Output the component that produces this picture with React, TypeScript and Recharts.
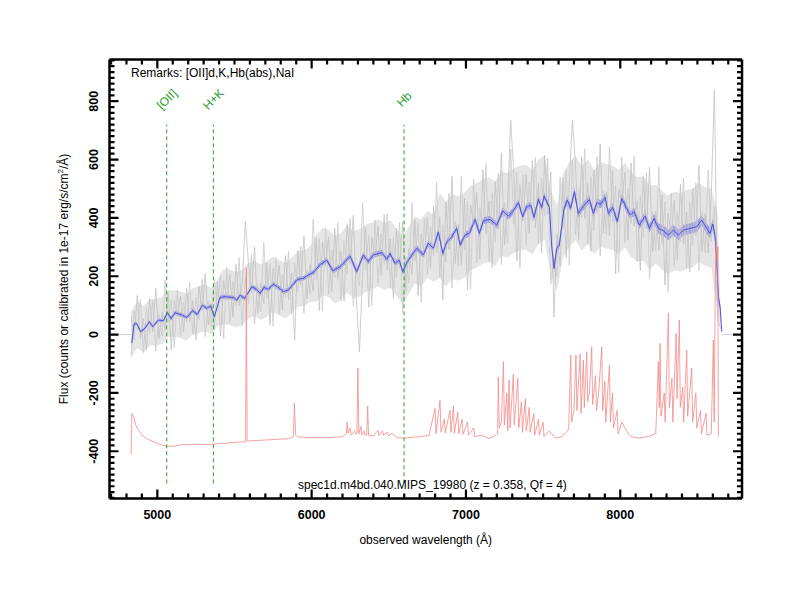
import {
  Area,
  ComposedChart,
  Line,
  ReferenceLine,
  Scatter,
  XAxis,
  YAxis,
} from "recharts";

const FONT = '"Liberation Sans", Arial, Helvetica, sans-serif';

// raw spectrum (grey), two traces on a regular 20 A grid
const grayStart = 4830;
const grayStep = 20;
const grayFlux = [
  63, -19, 134, -15, 54, -52, 123, 10, 159, -13,
  75, 15, 144, -52, 117, 63, 131, 10, 159, 45,
  116, -18, 166, 82, 209, 33, 107, 17, 182, -5,
  185, 119, 205, 61, 241, 99, 172, 390, 249, 142,
  301, 73, 178, 107, 245, 33, 227, 154, 237, 84,
  271, 120, 212, -20, 289, 170, 337, 123, 240, 149,
  332, 82, 315, 237, 335, 147, 365, 189, 285, 115,
  377, 242, 409, 126, -60, 205, 366, 94, 333, 263,
  371, 203, 411, 221, 328, 125, 365, 228, 387, 149,
  294, 205, 394, 134, 345, 267, 401, 227, 439, 282,
  404, 120, 454, 293, 543, 243, 378, 238, 468, 153,
  445, 374, 487, 259, 564, 345, 458, 230, 524, 363,
  623, 308, 456, 735, 553, 253, 515, 389, 548, 346,
  596, 367, 519, 280, 614, 413, 558, 60, 344, 235,
  538, 263, 525, 735, 582, 324, 608, 397, 519, 285,
  564, 418, 654, 348, 488, 340, 563, 208, 500, 449,
  556, 324, 588, 372, 459, 220, 542, 363, 574, 285,
  423, 289, 478, 170, 417, 335, 460, 255, 515, 311,
  420, 214, 501, 340, 580, 285, 415, 280, 485, 840,
  120, 90,
];
const grayFlux2 = [
  -72, 80, 17, 120, -63, 92, 6, 118, -57, 68,
  -6, 186, 45, 119, -45, 153, -4, 109, 42, 180,
  -1, 126, 49, 190, -7, 114, 26, 188, 83, 204,
  -13, 229, 40, 182, 98, 264, 29, 196, 106, 274,
  37, 172, 79, 316, 124, 242, 29, 264, 72, 205,
  128, 285, 69, 246, 146, 302, 73, 222, 141, 396,
  189, 329, 81, 367, 140, 290, 196, 384, 116, 323,
  208, 398, 97, 243, 167, 452, 223, 341, 99, 393,
  176, 346, 242, 416, 159, 333, 196, 384, 75, 266,
  177, 452, 251, 381, 111, 397, 206, 370, 270, 522,
  196, 376, 246, 485, 159, 387, 234, 542, 292, 457,
  157, 534, 247, 435, 356, 585, 250, 486, 316, 555,
  239, 452, 312, 636, 377, 557, 227, 549, 308, 522,
  388, 607, 311, 536, 406, 605, 174, 262, 200, 539,
  362, 567, 237, 599, 342, 500, 400, 637, 311, 541,
  356, 610, 270, 492, 344, 644, 387, 512, 212, 609,
  316, 500, 380, 612, 251, 476, 334, 555, 190, 420,
  288, 574, 313, 455, 147, 485, 235, 420, 320, 536,
  225, 454, 306, 520, 220, 420, 280, 565, 320, 440,
  60, 20,
];

// dense core of the raw spectrum: wavelength, low, high
const grayCore: [number, number, number][] = [
  [4830, -80, 80], [4870, -45, 115], [4910, -62, 98], [4950, -38, 122], [4990, -38, 122],
  [5030, -32, 128], [5070, -8, 152], [5110, -8, 152], [5150, -12, 148], [5190, -20, 140],
  [5230, 0, 160], [5270, 5, 165], [5310, 12, 172], [5350, 0, 160], [5390, 30, 190],
  [5430, 35, 225], [5470, 33, 223], [5510, 25, 215], [5550, 33, 223], [5590, 55, 245],
  [5630, 63, 253], [5670, 50, 240], [5710, 62, 252], [5750, 77, 267], [5790, 65, 255],
  [5830, 55, 245], [5870, 73, 263], [5910, 95, 285], [5950, 99, 289], [5990, 112, 302],
  [6030, 113, 343], [6070, 135, 365], [6110, 129, 359], [6150, 107, 337], [6190, 118, 348],
  [6230, 145, 375], [6270, 125, 355], [6310, 130, 360], [6350, 147, 377], [6390, 153, 383],
  [6430, 165, 395], [6470, 153, 383], [6510, 161, 391], [6550, 133, 363], [6590, 103, 333],
  [6630, 140, 370], [6670, 175, 405], [6710, 165, 395], [6750, 195, 425], [6790, 181, 411],
  [6830, 195, 485], [6870, 165, 455], [6910, 190, 480], [6950, 185, 475], [6990, 195, 485],
  [7030, 220, 510], [7070, 230, 520], [7110, 243, 533], [7150, 249, 539], [7190, 235, 525],
  [7230, 270, 560], [7270, 263, 553], [7310, 280, 570], [7350, 290, 580], [7390, 291, 581],
  [7430, 275, 565], [7470, 310, 600], [7510, 325, 615], [7550, 205, 495], [7590, 151, 441],
  [7630, 265, 555], [7670, 300, 590], [7710, 325, 615], [7750, 287, 577], [7790, 310, 600],
  [7830, 275, 565], [7870, 301, 591], [7910, 295, 585], [7950, 290, 580], [7990, 275, 565],
  [8030, 299, 589], [8070, 267, 557], [8110, 250, 540], [8150, 253, 543], [8190, 221, 511],
  [8230, 243, 513], [8270, 223, 493], [8310, 207, 477], [8350, 220, 490], [8390, 215, 485],
  [8430, 225, 495], [8470, 231, 501], [8510, 250, 520], [8550, 235, 505], [8590, 230, 500],
  [8630, 80, 420], [8650, 30, 90],
];

// flat zero outside the observed range
const padFlux: [number, number | null][] = [
  [4690, 0], [4830, 0], [4831, null], [8658, 0], [8789, 0],
];

// smoothed spectrum: wavelength, flux, error
const smoothSpec: [number, number, number][] = [
  [4834, -29, 6], [4849, 36, 6], [4866, 38, 6], [4892, 10, 6], [4920, 22, 6],
  [4948, 44, 6], [4970, 27, 6], [5006, 50, 6], [5039, 47, 6], [5065, 75, 7],
  [5089, 55, 7], [5115, 75, 7], [5158, 67, 7], [5191, 59, 7], [5229, 82, 7],
  [5259, 69, 7], [5292, 101, 7], [5320, 90, 7], [5346, 98, 7], [5369, 61, 7],
  [5406, 127, 7], [5438, 130, 7], [5493, 127, 7], [5515, 118, 7], [5536, 135, 7],
  [5564, 124, 7], [5579, 135, 7], [5612, 164, 8], [5644, 155, 8], [5666, 141, 8],
  [5691, 162, 8], [5719, 155, 8], [5752, 173, 8], [5784, 162, 8], [5817, 147, 8],
  [5849, 153, 8], [5881, 173, 8], [5907, 189, 8], [5946, 193, 8], [5979, 204, 8],
  [6016, 215, 8], [6050, 238, 9], [6098, 255, 9], [6137, 219, 9], [6184, 232, 9],
  [6249, 269, 10], [6292, 215, 10], [6335, 273, 10], [6367, 250, 10], [6400, 273, 10],
  [6454, 281, 10], [6487, 258, 10], [6508, 278, 10], [6541, 244, 10], [6568, 255, 10],
  [6590, 215, 10], [6620, 250, 10], [6681, 296, 10], [6724, 273, 10], [6756, 313, 10],
  [6789, 296, 10], [6821, 352, 11], [6850, 278, 11], [6876, 318, 11], [6908, 335, 11],
  [6940, 364, 11], [6962, 307, 11], [6994, 341, 11], [7022, 347, 12], [7059, 395, 12],
  [7087, 347, 12], [7113, 390, 12], [7156, 395, 12], [7200, 375, 12], [7238, 424, 12],
  [7275, 406, 12], [7303, 421, 12], [7340, 452, 12], [7368, 404, 12], [7390, 436, 12],
  [7420, 444, 12], [7441, 402, 12], [7469, 463, 12], [7491, 436, 12], [7506, 475, 12],
  [7541, 436, 12], [7556, 301, 14], [7571, 227, 14], [7588, 296, 14], [7605, 307, 14],
  [7636, 433, 14], [7657, 461, 14], [7679, 433, 14], [7703, 490, 14], [7728, 415, 14],
  [7761, 440, 14], [7800, 463, 14], [7826, 415, 14], [7848, 452, 14], [7874, 447, 14],
  [7902, 470, 14], [7923, 415, 14], [7951, 436, 14], [7981, 387, 14], [8010, 467, 14],
  [8038, 436, 14], [8064, 410, 14], [8090, 421, 14], [8124, 375, 14], [8161, 406, 15],
  [8189, 364, 15], [8219, 398, 16], [8247, 364, 18], [8279, 356, 18], [8312, 341, 18],
  [8344, 358, 18], [8377, 341, 18], [8409, 358, 18], [8453, 364, 18], [8496, 370, 18],
  [8528, 392, 18], [8561, 364, 18], [8582, 347, 18], [8600, 379, 18], [8615, 335, 16],
  [8625, 255, 12], [8636, 130, 10], [8647, 95, 8], [8658, 10, 6],
];

// sky spectrum (offset), wavelength, flux
const skySpec: [number, number][] = [
  [4830, -410], [4835, -270], [4845, -280], [4860, -310], [4880, -330], [4910, -350],
  [4950, -362], [5000, -373], [5050, -382], [5100, -383], [5150, -378], [5200, -377],
  [5250, -376], [5300, -377], [5350, -376], [5400, -374], [5450, -372], [5500, -370],
  [5572, -367], [5577, 230], [5582, -365], [5650, -363], [5750, -360], [5850, -357],
  [5882, -350], [5888, -235], [5893, -300], [5897, -345], [5910, -352], [5930, -350],
  [5950, -354], [6000, -353], [6100, -354], [6200, -350], [6225, -340], [6230, -300],
  [6236, -338], [6250, -320], [6256, -345], [6280, -330], [6286, -342], [6294, -335],
  [6300, -116], [6306, -340], [6320, -315], [6326, -344], [6340, -330], [6346, -345],
  [6357, -345], [6363, -245], [6369, -345], [6400, -348], [6430, -328], [6436, -346],
  [6460, -330], [6466, -345], [6490, -335], [6497, -347], [6520, -340], [6560, -354],
  [6600, -355], [6650, -352], [6700, -350], [6760, -346], [6800, -253], [6806, -340],
  [6832, -225], [6838, -335], [6860, -290], [6866, -338], [6897, -259], [6903, -335],
  [6919, -245], [6925, -338], [6947, -265], [6953, -340], [6975, -290], [6981, -342],
  [7010, -300], [7016, -345], [7050, -320], [7056, -350], [7100, -345], [7150, -356],
  [7178, -350], [7205, -340], [7210, -145], [7216, -320], [7230, -300], [7243, -93],
  [7249, -310], [7265, -200], [7271, -330], [7280, -155], [7286, -320], [7307, -136],
  [7313, -310], [7336, -150], [7342, -320], [7360, -230], [7366, -335], [7385, -220],
  [7391, -330], [7410, -250], [7416, -335], [7440, -270], [7446, -345], [7470, -290],
  [7476, -345], [7500, -300], [7506, -350], [7540, -330], [7580, -355], [7620, -350],
  [7660, -330], [7666, -320], [7679, -70], [7685, -300], [7700, -260], [7713, -70],
  [7719, -260], [7740, -66], [7746, -270], [7761, -87], [7767, -250], [7783, -59],
  [7789, -230], [7800, -200], [7815, -42], [7821, -240], [7840, -140], [7846, -260],
  [7860, -200], [7880, -42], [7886, -260], [7900, -160], [7906, -300], [7930, -105],
  [7936, -300], [7950, -200], [7956, -320], [7980, -260], [7986, -340], [8010, -300],
  [8040, -330], [8070, -350], [8120, -355], [8180, -350], [8230, -340], [8247, -93],
  [8253, -250], [8258, -30], [8264, -280], [8285, -200], [8291, -300], [8312, 73],
  [8318, -250], [8335, -150], [8341, -300], [8362, 4], [8368, -220], [8383, 50],
  [8389, -250], [8405, -180], [8411, -300], [8431, -53], [8437, -280], [8463, -115],
  [8469, -300], [8490, -200], [8496, -320], [8520, -260], [8526, -340], [8556, -270],
  [8562, -345], [8590, -340], [8603, -19], [8609, -300], [8616, 200], [8622, 320],
  [8628, 250], [8632, 301], [8636, -350],
];

const featureNames = ["[OII]", "H+K", "Hb"];
const featureWaves = [5061, 5363, 6599];
const featureTop = 720;
const featureBottom = -510;
const featureLabelY = 797;

const xMajorTicks = [5000, 6000, 7000, 8000];
const yMajorTicks = [-400, -200, 0, 200, 400, 600, 800];
const xDomain = [4690, 8789];
const yDomain = [-562, 943];

const xTicks: number[] = [];
for (let w = 4700; w <= 8700; w += 100) xTicks.push(w);
const yTicks: number[] = [];
for (let v = -560; v <= 940; v += 20) yTicks.push(v);

const grayData = grayFlux.map((f, i) => ({ w: grayStart + i * grayStep, f, g: grayFlux2[i] }));
const coreData = grayCore.map(([w, lo, hi]) => ({ w, band: [lo, hi] }));
const padData = padFlux.map(([w, f]) => ({ w, f }));
const smoothData = smoothSpec.map(([w, f, e]) => ({ w, f, band: [f - e, f + e] }));
const skyData = skySpec.map(([w, f]) => ({ w, f }));
const featureData = featureNames.map((name, i) => ({
  w: featureWaves[i],
  f: featureLabelY,
  name,
}));

// tick marks sit just inside the frame: one point per tick and per edge
const tickData = [
  ...xTicks.map((w) => ({ w, f: yDomain[0], side: "b", major: xMajorTicks.includes(w) })),
  ...xTicks.map((w) => ({ w, f: yDomain[1], side: "t", major: xMajorTicks.includes(w) })),
  ...yTicks.map((v) => ({ w: xDomain[0], f: v, side: "l", major: yMajorTicks.includes(v) })),
  ...yTicks.map((v) => ({ w: xDomain[1], f: v, side: "r", major: yMajorTicks.includes(v) })),
];

const GREEN = "#2ca02c";
const THIN = 0.01;
const frame = { stroke: "#000", strokeWidth: 2.5 };

function tickMark(p: any) {
  const { cx, cy, payload } = p;
  if (cx == null || cy == null) return <g />;
  const len = payload.major ? 9 : 5;
  let d = "";
  if (payload.side === "b") d = `M${cx},${cy}L${cx},${cy - len}`;
  if (payload.side === "t") d = `M${cx},${cy}L${cx},${cy + len}`;
  if (payload.side === "l") d = `M${cx},${cy}L${cx + len},${cy}`;
  if (payload.side === "r") d = `M${cx},${cy}L${cx - len},${cy}`;
  return <path d={d} stroke="#000" strokeWidth={2.2} fill="none" />;
}

function bottomLabel(p: any) {
  const { x, y, payload } = p;
  return (
    <text x={x} y={y + 20} textAnchor="middle" fontFamily={FONT} fontSize={12.5} fontWeight="bold" fill="#000">
      {payload.value}
    </text>
  );
}

function leftLabel(p: any) {
  const { x, y, payload } = p;
  const tx = x - 11;
  return (
    <text
      x={tx}
      y={y}
      transform={`rotate(-90 ${tx} ${y})`}
      textAnchor="middle"
      fontFamily={FONT}
      fontSize={12.5}
      fontWeight="bold"
      fill="#000"
    >
      {payload.value}
    </text>
  );
}

function featureLabel(p: any) {
  const { cx, cy, payload } = p;
  const tx = cx + 3;
  const ty = cy;
  return (
    <text
      x={tx}
      y={ty}
      transform={`rotate(-45 ${tx} ${ty})`}
      textAnchor="middle"
      fontFamily={FONT}
      fontSize={12}
      fill={GREEN}
    >
      {payload.name}
    </text>
  );
}

export default function App() {
  const xCommon = {
    type: "number" as const,
    domain: xDomain,
    allowDataOverflow: true,
    interval: 0 as const,
    height: THIN,
    tickSize: 0,
    tickMargin: 0,
    tickLine: false,
  };
  const yCommon = {
    type: "number" as const,
    domain: yDomain,
    allowDataOverflow: true,
    interval: 0 as const,
    width: THIN,
    tickSize: 0,
    tickMargin: 0,
    tickLine: false,
  };
  return (
    <div style={{ position: "absolute", left: 0, top: 0, width: 800, height: 600, background: "#fff" }}>
      <ComposedChart
        width={800}
        height={600}
        margin={{ top: 59.49, right: 57.99, bottom: 101.49, left: 109.49 }}
      >
        <XAxis {...xCommon} xAxisId="b" dataKey="w" ticks={xMajorTicks} tick={bottomLabel} axisLine={frame} />
        <XAxis {...xCommon} xAxisId="t" orientation="top" ticks={xMajorTicks} tick={false} axisLine={frame} />
        <YAxis {...yCommon} yAxisId="l" ticks={yMajorTicks} tick={leftLabel} axisLine={frame} />
        <YAxis {...yCommon} yAxisId="r" orientation="right" ticks={yMajorTicks} tick={false} axisLine={frame} />

        <Line
          xAxisId="b"
          yAxisId="l"
          data={padData}
          dataKey="f"
          stroke="#cfcfe8"
          strokeWidth={1}
          dot={false}
          connectNulls={false}
          isAnimationActive={false}
        />
        <Area
          xAxisId="b"
          yAxisId="l"
          data={coreData}
          dataKey="band"
          stroke="none"
          fill="#dedede"
          fillOpacity={0.8}
          isAnimationActive={false}
        />
        <Line
          xAxisId="b"
          yAxisId="l"
          data={grayData}
          dataKey="g"
          stroke="#cacaca"
          strokeWidth={0.8}
          dot={false}
          isAnimationActive={false}
        />
        <Line
          xAxisId="b"
          yAxisId="l"
          data={grayData}
          dataKey="f"
          stroke="#c2c2c2"
          strokeWidth={0.8}
          dot={false}
          isAnimationActive={false}
        />
        <Area
          xAxisId="b"
          yAxisId="l"
          data={smoothData}
          dataKey="band"
          stroke="none"
          fill="#8585ec"
          fillOpacity={0.75}
          isAnimationActive={false}
        />
        <Line
          xAxisId="b"
          yAxisId="l"
          data={smoothData}
          dataKey="f"
          stroke="#5050e2"
          strokeWidth={1}
          dot={false}
          isAnimationActive={false}
        />
        <Line
          xAxisId="b"
          yAxisId="l"
          data={skyData}
          dataKey="f"
          stroke="#f28a8a"
          strokeWidth={0.8}
          dot={false}
          isAnimationActive={false}
        />
        {featureWaves.map((w) => (
          <ReferenceLine
            key={`f${w}`}
            xAxisId="b"
            yAxisId="l"
            segment={[
              { x: w, y: featureBottom },
              { x: w, y: featureTop },
            ]}
            stroke={GREEN}
            strokeWidth={1}
            strokeDasharray="4 3"
          />
        ))}
        <Scatter
          xAxisId="b"
          yAxisId="l"
          data={featureData}
          dataKey="f"
          shape={featureLabel}
          isAnimationActive={false}
        />
        <Scatter
          xAxisId="b"
          yAxisId="l"
          data={tickData}
          dataKey="f"
          shape={tickMark}
          isAnimationActive={false}
        />
      </ComposedChart>
      <svg
        width={800}
        height={600}
        style={{ position: "absolute", left: 0, top: 0, pointerEvents: "none" }}
        fontFamily={FONT}
        fontSize={12}
        fill="#000"
      >
        <text x={131} y={77}>Remarks: [OII]d,K,Hb(abs),NaI</text>
        <text x={298} y={489}>spec1d.m4bd.040.MIPS_19980 (z = 0.358, Qf = 4)</text>
        <text x={425.75} y={544} textAnchor="middle">observed wavelength (Å)</text>
        <text transform="translate(68 279) rotate(-90)" textAnchor="middle">
          Flux (counts or calibrated in 1e-17 erg/s/cm
          <tspan dy={-5} fontSize={8}>2</tspan>
          <tspan dy={5}>/Å)</tspan>
        </text>
      </svg>
    </div>
  );
}
